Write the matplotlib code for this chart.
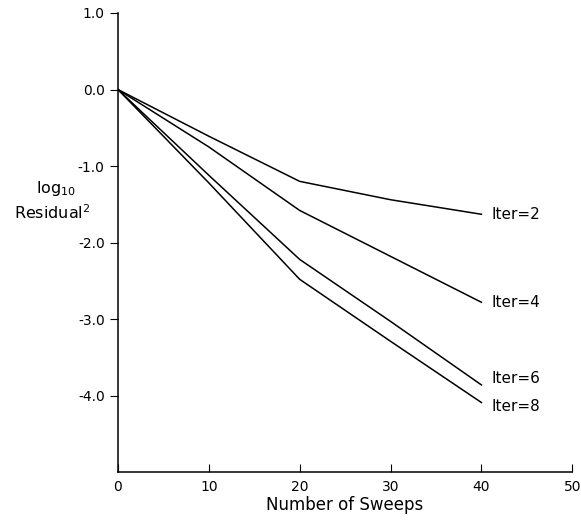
import matplotlib.pyplot as plt
import numpy as np

plt.rcParams['axes.unicode_minus'] = False
plt.rcParams['font.family'] = 'DejaVu Sans'

# donnees
sweeps = [0, 10, 20, 30, 40]
iter2 = [0.0, -0.61, -1.20, -1.44, -1.63]
iter4 = [0.0, -0.75, -1.58, -2.18, -2.78]
iter6 = [0.0, -1.12, -2.22, -3.03, -3.86]
iter8 = [0.0, -1.22, -2.48, -3.29, -4.09]
labels = ["Iter=2", "Iter=4", "Iter=6", "Iter=8"]
label_dy = [0, 0, -6, 4]  # decalage vertical des etiquettes (pixels)

xticks = [0, 10, 20, 30, 40, 50]
yticks = [1.0, 0.0, -1.0, -2.0, -3.0, -4.0]

fig = plt.figure(figsize=(5.81, 5.2), dpi=100)
ax = fig.add_axes([0.203, 0.092, 0.782, 0.883])

for serie, lab, dy in zip([iter2, iter4, iter6, iter8], labels, label_dy):
    ax.plot(sweeps, serie, color='black', linewidth=1.1)
    ax.annotate(lab, (sweeps[-1], serie[-1]), xytext=(10, -dy),
                textcoords='offset pixels', ha='left', va='center', fontsize=11)

ax.set_xlim(0, 50)
ax.set_ylim(-5.0, 1.0)
ax.set_xticks(xticks)
ax.set_xticklabels([str(t) for t in xticks])
ax.set_yticks(yticks)
ax.set_yticklabels(["%.1f" % t for t in yticks])
ax.tick_params(axis='x', direction='in', length=6, labelsize=10, pad=6)
ax.tick_params(axis='y', direction='out', length=6, labelsize=10)
ax.spines['top'].set_visible(False)
ax.spines['right'].set_visible(False)
ax.spines['left'].set_linewidth(1.1)
ax.spines['bottom'].set_linewidth(1.1)
ax.set_xlabel("Number of Sweeps", fontsize=12, labelpad=1)

# libelle de l'axe y, horizontal, en deux lignes
fig.text(0.097, 0.637, r"$\mathregular{log_{10}}$", ha='center', va='center', fontsize=11.5)
fig.text(0.09, 0.592, r"Residual$^2$", ha='center', va='center', fontsize=11.5)

fig.savefig("out.png", dpi=100)
